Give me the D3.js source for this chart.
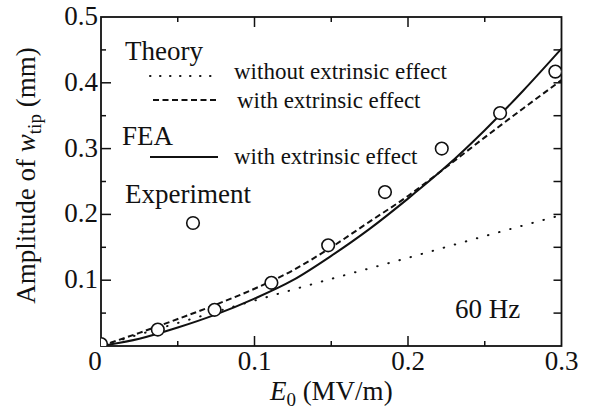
<!DOCTYPE html>
<html>
<head>
<meta charset="utf-8">
<script src="https://cdn.jsdelivr.net/npm/d3@7"></script>
<style>
  body { margin: 0; background: #fff; }
  text { font-family: "Liberation Serif", "Times New Roman", serif; fill: #111; }
</style>
</head>
<body>
<div id="chart"></div>
<script>
// Data
const eGrid = [0, 0.025, 0.05, 0.075, 0.1, 0.125, 0.15, 0.175, 0.2, 0.225, 0.25, 0.275, 0.3];
const feaWith = [0, 0.011, 0.028, 0.048, 0.072, 0.100, 0.137, 0.178, 0.224, 0.273, 0.328, 0.388, 0.452];
const theoryWith = [0, 0.020, 0.041, 0.063, 0.087, 0.115, 0.150, 0.189, 0.228, 0.272, 0.317, 0.361, 0.404];
const eLin = [0, 0.05, 0.1, 0.15, 0.2, 0.25, 0.3];
const theoryWithout = [0, 0.035, 0.069, 0.102, 0.134, 0.167, 0.199];
const expE = [0.0, 0.037, 0.074, 0.111, 0.148, 0.185, 0.222, 0.26, 0.296];
const expA = [0.003, 0.025, 0.055, 0.096, 0.153, 0.234, 0.300, 0.354, 0.417];
const xTicks = [0.1, 0.2, 0.3];
const yTicks = [0.1, 0.2, 0.3, 0.4, 0.5];

const W = 592, H = 413;
const pLeft = 101, pRight = 561.5, pTop = 17, pBottom = 346;

const svg = d3.select("#chart").append("svg")
  .attr("width", W).attr("height", H);

const x = d3.scaleLinear().domain([0, 0.3]).range([pLeft, pRight]);
const y = d3.scaleLinear().domain([0, 0.5]).range([pBottom, pTop]);

svg.append("clipPath").attr("id", "plot")
  .append("rect")
  .attr("x", pLeft).attr("y", pTop)
  .attr("width", pRight - pLeft).attr("height", pBottom - pTop);

// Ticks every 0.05, longer at 0.1
const minorX = d3.range(0.05, 0.3, 0.05);
const minorY = d3.range(0.05, 0.5, 0.05);
const isMajor = v => Math.abs(v * 10 - Math.round(v * 10)) < 1e-6;

const ticks = svg.append("g").style("stroke", "#111").style("stroke-width", 1.5);
minorX.forEach(v => {
  const len = isMajor(v) ? 10 : 5;
  ticks.append("line").attr("x1", x(v)).attr("x2", x(v)).attr("y1", pBottom).attr("y2", pBottom - len);
  ticks.append("line").attr("x1", x(v)).attr("x2", x(v)).attr("y1", pTop).attr("y2", pTop + len);
});
minorY.forEach(v => {
  const len = isMajor(v) ? 10 : 5;
  ticks.append("line").attr("x1", pLeft).attr("x2", pLeft + len).attr("y1", y(v)).attr("y2", y(v));
  ticks.append("line").attr("x1", pRight).attr("x2", pRight - 8).attr("y1", y(v)).attr("y2", y(v));
});

// Frame
svg.append("rect")
  .attr("x", pLeft).attr("y", pTop)
  .attr("width", pRight - pLeft).attr("height", pBottom - pTop)
  .style("fill", "none").style("stroke", "#111").style("stroke-width", 1.8);

// Tick labels
svg.selectAll("text.xt").data(xTicks).enter().append("text")
  .attr("x", d => x(d)).attr("y", 370)
  .attr("text-anchor", "middle").style("font-size", "27px")
  .text(d => d3.format(".1f")(d));
svg.append("text").attr("x", 95).attr("y", 370)
  .attr("text-anchor", "middle").style("font-size", "27px").text("0");

svg.selectAll("text.yt").data(yTicks).enter().append("text")
  .attr("x", 98).attr("y", d => y(d) + 8)
  .attr("text-anchor", "end").style("font-size", "27px")
  .text(d => d3.format(".1f")(d));

// Axis titles
const xl = svg.append("text").attr("x", (pLeft + pRight) / 2).attr("y", 400)
  .attr("text-anchor", "middle").style("font-size", "27px");
xl.append("tspan").style("font-style", "italic").text("E");
xl.append("tspan").attr("dy", 6).style("font-size", "19px").text("0");
xl.append("tspan").attr("dy", -6).text(" (MV/m)");

const yl = svg.append("text")
  .attr("transform", `translate(35,${(pTop + pBottom) / 2 - 6}) rotate(-90)`)
  .attr("text-anchor", "middle").style("font-size", "27px");
yl.append("tspan").text("Amplitude of ");
yl.append("tspan").style("font-style", "italic").text("w");
yl.append("tspan").attr("dy", 6).style("font-size", "19px").text("tip");
yl.append("tspan").attr("dy", -6).text(" (mm)");

// Curves
const plot = svg.append("g").attr("clip-path", "url(#plot)");
const line = d3.line().x(d => x(d[0])).y(d => y(d[1])).curve(d3.curveMonotoneX);

plot.append("path")
  .datum(eLin.map((e, i) => [e, theoryWithout[i]]))
  .attr("d", line)
  .style("fill", "none").style("stroke", "#111")
  .style("stroke-width", 2).style("stroke-linecap", "round")
  .style("stroke-dasharray", "0.5,11");

plot.append("path")
  .datum(eGrid.map((e, i) => [e, theoryWith[i]]))
  .attr("d", line)
  .style("fill", "none").style("stroke", "#111")
  .style("stroke-width", 2).style("stroke-dasharray", "6,3.5");

plot.append("path")
  .datum(eGrid.map((e, i) => [e, feaWith[i]]))
  .attr("d", line)
  .style("fill", "none").style("stroke", "#111").style("stroke-width", 2);

plot.selectAll("circle.exp")
  .data(expE.map((e, i) => [e, expA[i]]))
  .enter().append("circle")
  .attr("cx", d => x(d[0])).attr("cy", d => y(d[1]))
  .attr("r", 6.3)
  .style("fill", "#fff").style("stroke", "#111").style("stroke-width", 1.6);

// Legend
const lg = svg.append("g");
lg.append("text").attr("x", 125).attr("y", 60).style("font-size", "27px").text("Theory");
lg.append("line").attr("x1", 150).attr("x2", 213).attr("y1", 76).attr("y2", 76)
  .style("stroke", "#111").style("stroke-width", 2).style("stroke-linecap", "round")
  .style("stroke-dasharray", "0.5,9.5");
lg.append("text").attr("x", 234).attr("y", 79).style("font-size", "23px").text("without extrinsic effect");
lg.append("line").attr("x1", 153).attr("x2", 218).attr("y1", 100).attr("y2", 100)
  .style("stroke", "#111").style("stroke-width", 2).style("stroke-dasharray", "6,3.5");
lg.append("text").attr("x", 237).attr("y", 108).style("font-size", "23px").text("with extrinsic effect");

lg.append("text").attr("x", 122).attr("y", 145).style("font-size", "27px").text("FEA");
lg.append("line").attr("x1", 150).attr("x2", 218).attr("y1", 157).attr("y2", 157)
  .style("stroke", "#111").style("stroke-width", 2);
lg.append("text").attr("x", 234).attr("y", 164).style("font-size", "23px").text("with extrinsic effect");

lg.append("text").attr("x", 125).attr("y", 203).style("font-size", "27px").text("Experiment");
lg.append("circle").attr("cx", 193).attr("cy", 223).attr("r", 6.3)
  .style("fill", "#fff").style("stroke", "#111").style("stroke-width", 1.6);

svg.append("text").attr("x", 455).attr("y", 318).style("font-size", "27px").text("60 Hz");
</script>
</body>
</html>
